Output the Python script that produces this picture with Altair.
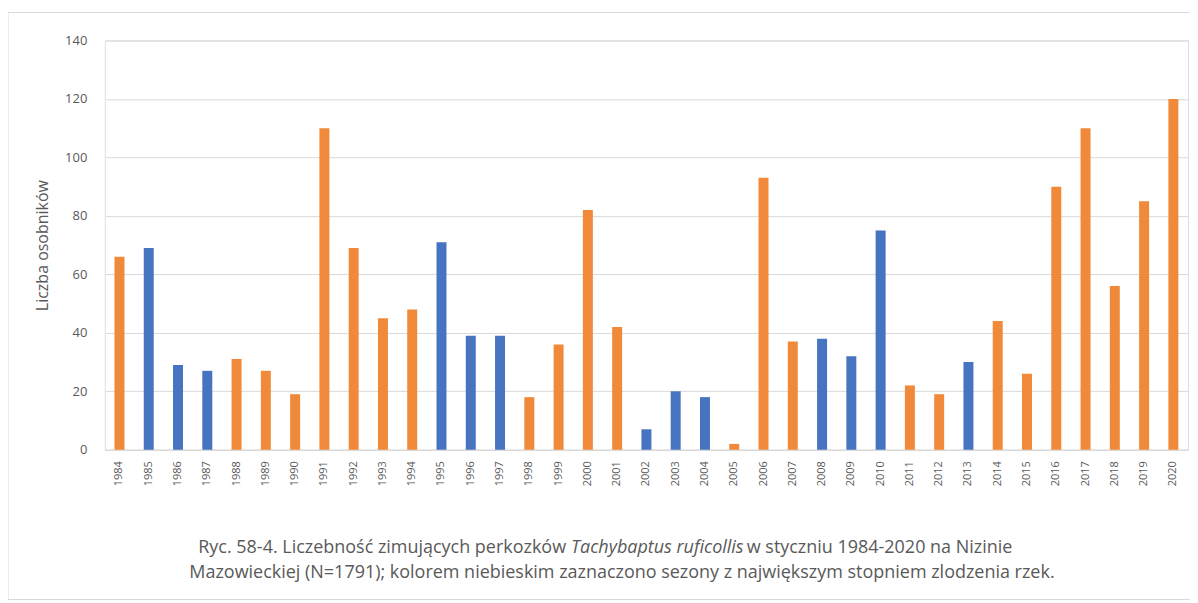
import altair as alt
import pandas as pd

years = [str(y) for y in range(1984, 2021)]
counts = [66, 69, 29, 27, 31, 27, 19, 110, 69, 45, 48, 71, 39, 39, 18, 36, 82, 42, 7,
          20, 18, 2, 93, 37, 38, 32, 75, 22, 19, 30, 44, 26, 90, 110, 56, 85, 120]
frozen = ["1985", "1986", "1987", "1995", "1996", "1997", "2002", "2003", "2004",
          "2008", "2009", "2010", "2013"]
groups = ["zlodzenie" if y in frozen else "inne" for y in years]
group_names = ["inne", "zlodzenie"]
group_colors = ["#F08A3A", "#4774C0"]
y_ticks = [0, 20, 40, 60, 80, 100, 120, 140]

caption_a = "Ryc. 58-4. Liczebność zimujących perkozków"
caption_b = "Tachybaptus ruficollis"
caption_c = "w styczniu 1984-2020  na Nizinie"
caption_2 = "Mazowieckiej (N=1791); kolorem niebieskim zaznaczono sezony z największym stopniem zlodzenia rzek."

df = pd.DataFrame({"rok": years, "liczba": counts, "grupa": groups})

W, H = 1085, 410
FONT = "Open Sans"
GRAY = "#595959"

bars = alt.Chart(df).mark_bar(size=10).encode(
    x=alt.X("rok:N", sort=years,
            scale=alt.Scale(paddingInner=0, paddingOuter=0),
            axis=alt.Axis(title=None, labelAngle=270, labelAlign="right", labelBaseline="middle",
                          labelPadding=11, labelFontSize=11, labelColor=GRAY, labelFont=FONT,
                          ticks=False, domainColor="#d9d9d9", grid=False)),
    y=alt.Y("liczba:Q", scale=alt.Scale(domain=[0, 140]),
            axis=alt.Axis(title="Liczba osobników", values=y_ticks, ticks=False, domain=False,
                          labelPadding=18, labelFontSize=13, labelColor=GRAY, labelFont=FONT,
                          titleFont=FONT, titleFontSize=16, titleFontWeight="normal",
                          titleColor=GRAY, titlePadding=14,
                          gridColor="#d9d9d9", gridWidth=1)),
    color=alt.Color("grupa:N", scale=alt.Scale(domain=group_names, range=group_colors), legend=None),
)

cap_df = pd.DataFrame({"t": [0]})
cap_style = dict(font=FONT, fontSize=18, color=GRAY, baseline="middle")
xa = 467   # start of italic part, relative to plot left
xc = 643   # start of the part after the italic

cap1a = alt.Chart(cap_df).mark_text(align="right", text=caption_a, **cap_style).encode(
    x=alt.value(xa - 5), y=alt.value(508))
cap1b = alt.Chart(cap_df).mark_text(align="left", text=caption_b, fontStyle="italic", **cap_style).encode(
    x=alt.value(xa), y=alt.value(508))
cap1c = alt.Chart(cap_df).mark_text(align="left", text=caption_c, **cap_style).encode(
    x=alt.value(xc), y=alt.value(508))
cap2 = alt.Chart(cap_df).mark_text(align="center", text=caption_2, **cap_style).encode(
    x=alt.value(518), y=alt.value(533))

frame = alt.Chart(cap_df).mark_rect(fill=None, stroke="#d9d9d9", strokeWidth=1).encode(
    x=alt.value(-97), x2=alt.value(1088), y=alt.value(-28), y2=alt.value(560))

chart = alt.layer(frame, bars, cap1a, cap1b, cap1c, cap2).properties(
    width=W, height=H,
    autosize=alt.AutoSizeParams(type="none"),
    padding={"left": 97, "top": 32, "right": 2, "bottom": 150},
).configure_view(stroke=None).configure(background="white")

chart.save("out.html", embed_options={"renderer": "svg", "actions": False})
